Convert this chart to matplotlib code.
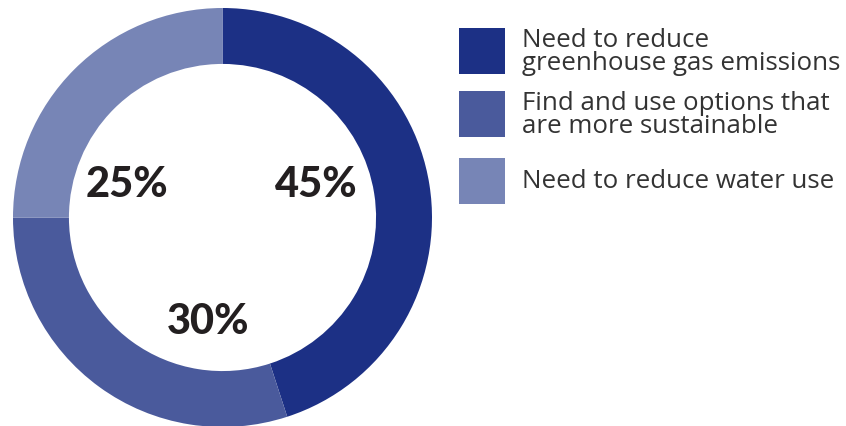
import matplotlib.pyplot as plt
from matplotlib.patches import Rectangle

labels = ["Need to reduce\ngreenhouse gas emissions",
          "Find and use options that\nare more sustainable",
          "Need to reduce water use"]
shares = [45, 30, 25]
colors = ["#1c3085", "#4a5a9c", "#7785b6"]

# hand-placed spots for the percentage labels (pixels from top-left)
label_pos = [(316, 185), (208, 322), (127, 185)]

W, H = 846, 427
fig = plt.figure(figsize=(W / 100, H / 100), dpi=100)
ax = fig.add_axes([0, 0, 1, 1])

cx, cy, r = 222.5, H - 218.5, 209.5
ax.pie(shares, colors=colors, startangle=90, counterclock=False,
       center=(cx, cy), radius=r, frame=True,
       wedgeprops=dict(width=r * 0.267, linewidth=0))
ax.set_xlim(0, W)
ax.set_ylim(0, H)
ax.set_aspect("equal")
ax.axis("off")

for v, (x, y) in zip(shares, label_pos):
    ax.text(x, H - y, f"{v}%", ha="center", va="center", fontsize=30,
            fontweight="black", family="Lato", color="#231f20")

# legend boxes
box_tops = [29, 92, 159]
for lab, col, top in zip(labels, colors, box_tops):
    ax.add_patch(Rectangle((459, H - top - 46), 46, 46, color=col, lw=0))
    ax.text(522, H - top - 23, lab, ha="left", va="center", fontsize=18.6,
            family="Open Sans", color="#333333", linespacing=0.9)

fig.savefig("out.png", dpi=100)
